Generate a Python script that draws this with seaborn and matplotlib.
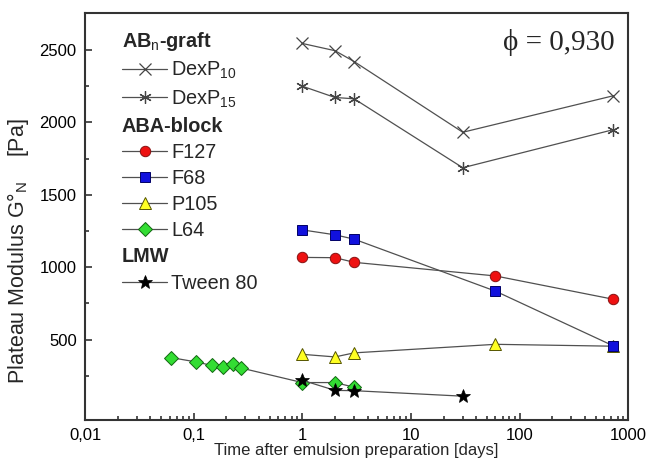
import numpy as np
import matplotlib
matplotlib.use("Agg")
import matplotlib.pyplot as plt
from matplotlib.lines import Line2D
from matplotlib.ticker import FixedLocator, FuncFormatter
import seaborn as sns

# data (time in days, plateau modulus in Pa)
t_dex = [1, 2, 3, 30, 730]
g_dexp10 = [2545, 2495, 2420, 1932, 2184]
g_dexp15 = [2250, 2172, 2163, 1687, 1950]

t_block = [1, 2, 3, 60, 730]
g_f127 = [1068, 1066, 1034, 940, 779]
g_f68 = [1258, 1224, 1194, 835, 457]
g_p105 = [399, 381, 409, 468, 455]

t_l64 = [0.0625, 0.104, 0.146, 0.1875, 0.229, 0.271, 1, 2, 3]
g_l64 = [376, 347, 323, 308, 330, 305, 204, 204, 172]

t_tween = [1, 2, 3, 30]
g_tween = [220, 150, 148, 110]

x_ticks = [0.01, 0.1, 1, 10, 100, 1000]
x_ticklabels = ["0,01", "0,1", "1", "10", "100", "1000"]
y_ticks = [500, 1000, 1500, 2000, 2500]

sns.set_theme(style="ticks")
plt.rcParams["font.family"] = ["Liberation Sans", "DejaVu Sans"]
plt.rcParams["mathtext.fontset"] = "custom"
plt.rcParams["mathtext.rm"] = "Liberation Sans"
plt.rcParams["mathtext.it"] = "Liberation Sans"
plt.rcParams["mathtext.bf"] = "Liberation Sans:bold"

line_col = "#505050"
fig = plt.figure(figsize=(6.49, 4.72), dpi=100)
ax = fig.add_axes([0.131, 0.110, 0.837, 0.863])

series = [
    (t_dex, g_dexp10, dict(marker="x", markersize=9, markeredgecolor="#444444", markerfacecolor="none", markeredgewidth=0.9)),
    (t_dex, g_dexp15, dict(marker=(6, 2, 0), markersize=9, markeredgecolor="#444444", markerfacecolor="none", markeredgewidth=0.9)),
    (t_block, g_f127, dict(marker="o", markersize=7.5, markerfacecolor="#ee1111", markeredgecolor="#881111", markeredgewidth=0.7)),
    (t_block, g_p105, dict(marker="^", markersize=8.5, markerfacecolor="#ffff22", markeredgecolor="#555500", markeredgewidth=0.7)),
    (t_block, g_f68, dict(marker="s", markersize=6.5, markerfacecolor="#1111dd", markeredgecolor="#000066", markeredgewidth=0.7)),
    (t_l64, g_l64, dict(marker="D", markersize=7, markerfacecolor="#33dd33", markeredgecolor="#116611", markeredgewidth=0.7)),
    (t_tween, g_tween, dict(marker="*", markersize=10, markerfacecolor="black", markeredgecolor="black", markeredgewidth=0.5)),
]
for xs, ys, kw in series:
    sns.lineplot(x=xs, y=ys, ax=ax, color=line_col, linewidth=0.9, estimator=None, **kw)

ax.set_xscale("log")
ax.set_xlim(0.01, 1000)
ax.set_ylim(-55, 2757)
ax.xaxis.set_major_locator(FixedLocator(x_ticks))
ax.xaxis.set_major_formatter(FuncFormatter(lambda v, p: x_ticklabels[x_ticks.index(v)] if v in x_ticks else ""))
ax.yaxis.set_major_locator(FixedLocator(y_ticks))
ax.yaxis.set_minor_locator(FixedLocator([250, 750, 1250, 1750, 2250]))
ax.tick_params(which="both", direction="in", colors="#333333", labelcolor="black", labelsize=12, width=1.2, pad=6)
ax.tick_params(which="major", length=5)
ax.tick_params(which="minor", length=3)
for s in ax.spines.values():
    s.set_color("#333333")
    s.set_linewidth(1.5)

ax.set_xlabel("Time after emulsion preparation [days]", fontsize=12, labelpad=0)
ax.set_ylabel("Plateau Modulus G°$_N$    [Pa]", fontsize=15.5)
ax.yaxis.set_label_coords(-0.1, 0.415)

ax.text(0.975, 0.96, "\u03d5 = 0,930", transform=ax.transAxes, ha="right", va="top",
        fontsize=21, family=["Liberation Serif", "DejaVu Serif"])

# legend with group headers
blank = Line2D([], [], linestyle="none", marker="none")
def h(kw):
    return Line2D([], [], color=line_col, linewidth=0.9, **kw)
handles = [blank, h(series[0][2]), h(series[1][2]), blank, h(series[2][2]), h(series[4][2]),
           h(series[3][2]), h(series[5][2]), blank, h(series[6][2])]
labels = ["AB$_n$-graft", "DexP$_{10}$", "DexP$_{15}$", "ABA-block", "F127", "F68", "P105", "L64",
          "LMW", "Tween 80"]
headers = {0, 3, 8}
leg = ax.legend(handles, labels, loc="upper left", bbox_to_anchor=(0.053, 0.978), frameon=False,
                fontsize=14.3, handlelength=2.3, handletextpad=0.2, labelspacing=0.36, borderaxespad=0)
for i, txt in enumerate(leg.get_texts()):
    if i in headers:
        txt.set_fontweight("bold")
rows = [hp for vp in leg._legend_handle_box.get_children() for hp in vp.get_children()]
for i, hp in enumerate(rows):
    if i in headers:
        hp.get_children()[0].set_width(0)
        hp.sep = 0

fig.savefig("out.png", dpi=100)
